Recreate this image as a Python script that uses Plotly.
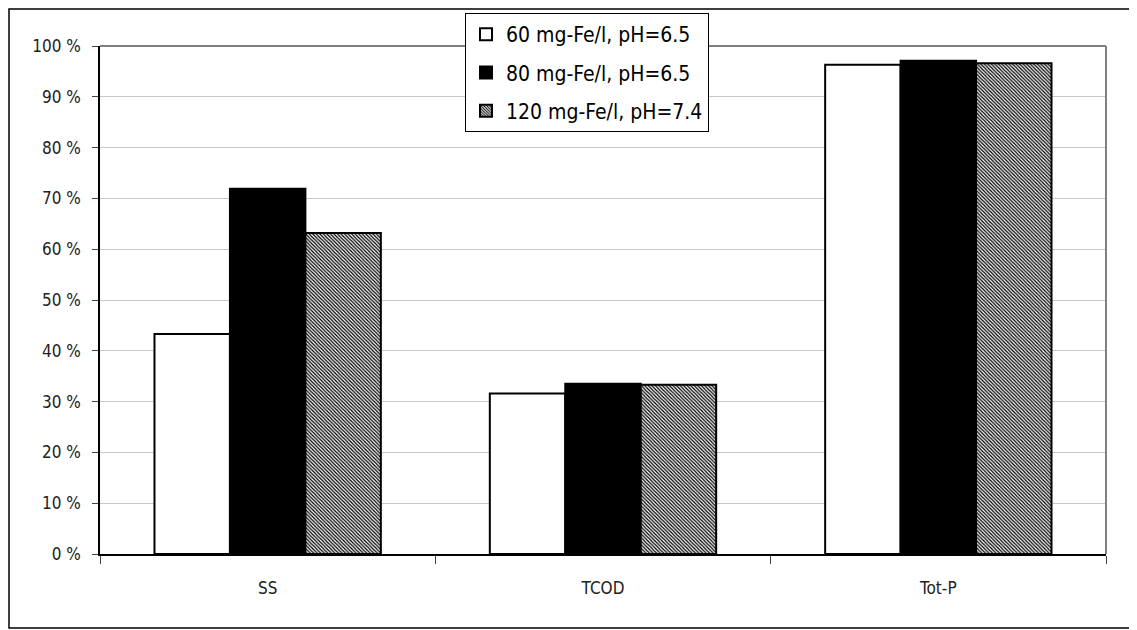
import plotly.graph_objects as go

categories = ["SS", "TCOD", "Tot-P"]
series_names = ["60 mg-Fe/l, pH=6.5", "80 mg-Fe/l, pH=6.5", "120 mg-Fe/l, pH=7.4"]
s60 = [43.3, 31.6, 96.3]
s80 = [71.9, 33.5, 97.1]
s120 = [63.2, 33.3, 96.6]
y_ticks = [0, 10, 20, 30, 40, 50, 60, 70, 80, 90, 100]
y_labels = [f"{v} %" for v in y_ticks]

FONT = "DejaVu Sans Condensed, Liberation Sans Narrow, Arial Narrow, Liberation Sans"

OFF = 8  # browser body margin
W, H = 1137 - OFF, 630 - OFF
L, T = 100 - OFF, 46 - OFF
pw, ph = 1006, 508
R = W - L - pw
B = H - T - ph

def fx(x):  # figure-pixel -> paper
    return (x - L) / pw

def fy(y):
    return (H - B - y) / ph

def px(x):  # page-pixel -> paper
    return fx(x - OFF)

def py(y):
    return fy(y - OFF)

fig = go.Figure()
fig.add_trace(go.Bar(x=categories, y=s60, name=series_names[0], legendgroup="a",
                     marker=dict(color="white", line=dict(color="black", width=2))))
fig.add_trace(go.Bar(x=categories, y=s80, name=series_names[1], legendgroup="b",
                     marker=dict(color="black", line=dict(color="black", width=2))))
fig.add_trace(go.Bar(x=categories, y=s120, name=series_names[2], legendgroup="c",
                     marker=dict(color="white", line=dict(color="black", width=2),
                                 pattern=dict(shape="\\", fgcolor="black", bgcolor="white",
                                              size=2.5, solidity=0.5, fillmode="replace"))))

fig.update_layout(
    width=W, height=H,
    margin=dict(l=L, r=R, t=T, b=B, autoexpand=False),
    paper_bgcolor="white", plot_bgcolor="white",
    barmode="group", bargap=0.325, bargroupgap=0,
    font=dict(family=FONT, size=17, color="#222"),
    showlegend=True,
    legend=dict(x=px(465), y=py(13), xanchor="left", yanchor="top",
                bordercolor="black", borderwidth=1, bgcolor="white",
                font=dict(family=FONT, size=21, color="black"),
                traceorder="grouped", tracegroupgap=8, itemwidth=30),
    xaxis=dict(showline=True, linecolor="black", linewidth=1.5,
               ticks="outside", ticklen=8, tickcolor="#444",
               tickson="boundaries", showgrid=False, ticklabelstandoff=18,
               automargin=False,
               tickfont=dict(family=FONT, size=17, color="#222")),
    yaxis=dict(range=[0, 100], tickvals=y_ticks, ticktext=y_labels,
               showline=True, linecolor="black", linewidth=1.5,
               ticks="outside", ticklen=6, tickcolor="#444",
               ticklabelstandoff=8, automargin=False,
               showgrid=True, gridcolor="#c8c8c8", gridwidth=1,
               zeroline=False,
               tickfont=dict(family=FONT, size=17, color="#222")),
    shapes=[
        dict(type="line", xref="paper", yref="paper", x0=0, x1=1, y0=1, y1=1,
             line=dict(color="#808080", width=2)),
        dict(type="line", xref="paper", yref="paper", x0=1, x1=1, y0=0, y1=1,
             line=dict(color="#808080", width=2)),
        dict(type="rect", xref="paper", yref="paper",
             x0=fx(1), x1=px(1133), y0=py(628), y1=fy(1),
             line=dict(color="black", width=1.5), fillcolor="rgba(0,0,0,0)",
             layer="below"),
    ],
)

fig.write_html("out.html")
